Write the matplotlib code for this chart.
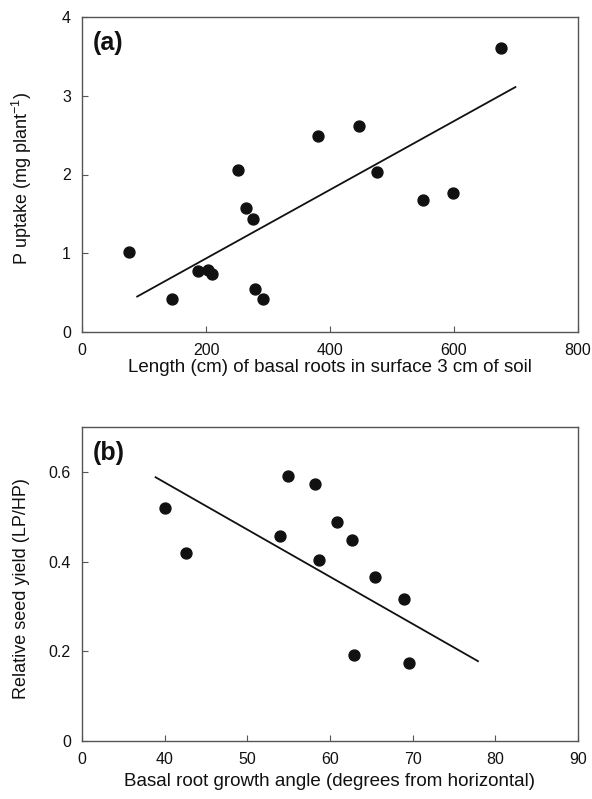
import matplotlib
matplotlib.use("Agg")
import matplotlib.pyplot as plt

plt.rcParams['font.family'] = ['Liberation Sans', 'DejaVu Sans']
plt.rcParams['mathtext.fontset'] = 'custom'
plt.rcParams['mathtext.rm'] = 'Liberation Sans'

# (a) basal root length vs P uptake
length_cm = [76, 145, 187, 203, 209, 251, 264, 276, 279, 292, 380, 447, 476, 550, 599, 676]
p_uptake = [1.02, 0.42, 0.78, 0.79, 0.74, 2.06, 1.58, 1.44, 0.55, 0.42, 2.49, 2.61, 2.03, 1.68, 1.76, 3.61]
fit_a_x = [89, 699]
fit_a_y = [0.45, 3.11]

# (b) basal root growth angle vs relative seed yield
angle_deg = [40.1, 42.6, 54.0, 54.9, 58.2, 58.7, 60.8, 62.7, 62.9, 65.5, 68.9, 69.6]
rel_yield = [0.520, 0.418, 0.458, 0.590, 0.573, 0.404, 0.488, 0.447, 0.192, 0.366, 0.317, 0.174]
fit_b_x = [38.9, 77.9]
fit_b_y = [0.588, 0.178]

a_xticks = [0, 200, 400, 600, 800]
a_yticks = [0, 1, 2, 3, 4]
b_xticks = [30, 40, 50, 60, 70, 80, 90]
b_xticklabels = ['0', '40', '50', '60', '70', '80', '90']
b_yticks = [0, 0.2, 0.4, 0.6]
b_yticklabels = ['0', '0.2', '0.4', '0.6']

W, H = 592, 799
fig = plt.figure(figsize=(W / 100, H / 100), dpi=100)

def box(l, r, t, b):
    return [l / W, 1 - b / H, (r - l) / W, (b - t) / H]

ax1 = fig.add_axes(box(82, 578, 17, 332))
ax2 = fig.add_axes(box(82, 578, 427, 741))

ink = '#111111'
frame = '#555555'
for ax in (ax1, ax2):
    for s in ax.spines.values():
        s.set_color(frame)
        s.set_linewidth(1.0)
    ax.tick_params(direction='in', length=4, width=0.8, color=frame,
                   labelsize=11.5, pad=8, labelcolor=ink)

# panel (a)
ax1.scatter(length_cm, p_uptake, s=62, color=ink, zorder=3)
ax1.plot(fit_a_x, fit_a_y, color=ink, lw=1.3)
ax1.set_xlim(0, 800)
ax1.set_ylim(0, 4)
ax1.set_xticks(a_xticks)
ax1.set_yticks(a_yticks)
ax1.set_xlabel('Length (cm) of basal roots in surface 3 cm of soil', fontsize=13.5, color=ink, va='center')
ax1.set_ylabel('P uptake (mg plant$^{\\mathregular{-1}}$)', fontsize=13, color=ink, va='center')
ax1.xaxis.set_label_coords(0.5, (332 - 368) / 315)
ax1.yaxis.set_label_coords((22 - 82) / 496, 0.488)
ax1.text(0.022, 0.955, '(a)', transform=ax1.transAxes, fontsize=18, fontweight='bold',
         va='top', ha='left', color=ink)

# panel (b)
ax2.scatter(angle_deg, rel_yield, s=62, color=ink, zorder=3)
ax2.plot(fit_b_x, fit_b_y, color=ink, lw=1.3)
ax2.set_xlim(30, 90)
ax2.set_ylim(0, 0.7)
ax2.set_xticks(b_xticks)
ax2.set_xticklabels(b_xticklabels)
ax2.set_yticks(b_yticks)
ax2.set_yticklabels(b_yticklabels)
ax2.set_xlabel('Basal root growth angle (degrees from horizontal)', fontsize=13.5, color=ink, va='center')
ax2.set_ylabel('Relative seed yield (LP/HP)', fontsize=13, color=ink, va='center')
ax2.xaxis.set_label_coords(0.5, (741 - 782) / 314)
ax2.yaxis.set_label_coords((22 - 82) / 496, 0.485)
ax2.text(0.022, 0.955, '(b)', transform=ax2.transAxes, fontsize=18, fontweight='bold',
         va='top', ha='left', color=ink)

fig.savefig('out.png', dpi=100)
